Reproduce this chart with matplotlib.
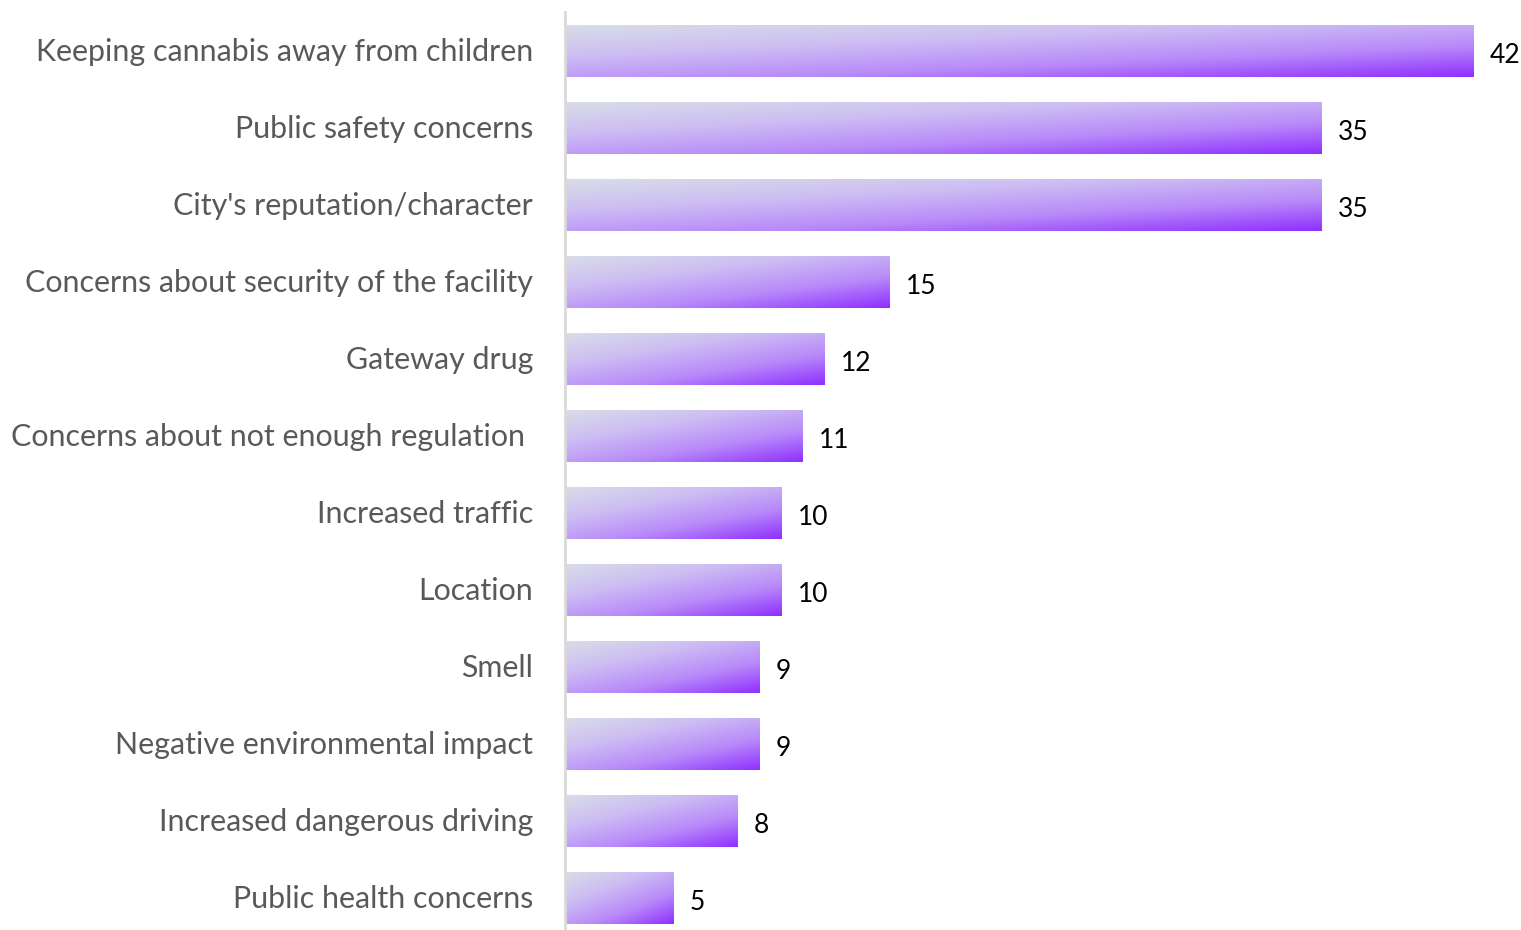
import numpy as np
import matplotlib.pyplot as plt
from matplotlib.colors import LinearSegmentedColormap

categories = [
    'Keeping cannabis away from children',
    'Public safety concerns',
    "City's reputation/character",
    'Concerns about security of the facility',
    'Gateway drug',
    'Concerns about not enough regulation ',
    'Increased traffic',
    'Location',
    'Smell',
    'Negative environmental impact',
    'Increased dangerous driving',
    'Public health concerns',
]
values = [42, 35, 35, 15, 12, 11, 10, 10, 9, 9, 8, 5]

plt.rcParams['font.family'] = ['Lato', 'DejaVu Sans']

cmap = LinearSegmentedColormap.from_list('bar_grad', ['#d8dde8', '#cdbdf3', '#b88af9', '#9030ff'])

fig = plt.figure(figsize=(15.21, 9.30), dpi=100)
ax = fig.add_axes([565 / 1521, 0.0, 1 - 565 / 1521, 1 - 12 / 930])

bar_h = 0.67
ypos = np.arange(len(values))
bars = ax.barh(ypos, values, height=bar_h, color='none')

# diagonal gradient: light at top-left, purple at bottom-right
gx, gy = np.meshgrid(np.linspace(0, 1, 200), np.linspace(0, 1, 60))
grad = (gx * 0.45 + gy * 0.55)
for b in bars:
    x0, y0 = b.get_x(), b.get_y()
    w, h = b.get_width(), b.get_height()
    ax.imshow(grad, cmap=cmap, extent=[x0, x0 + w, y0 + h, y0], origin='upper',
              aspect='auto', interpolation='bilinear', zorder=2)

for y, v in zip(ypos, values):
    ax.text(v + 0.75, y + 0.05, str(v), va='center', ha='left', fontsize=19, color='black')

# category labels as plain text to the left of the axis
for y, c in zip(ypos, categories):
    ax.text(-32 / 21.62, y + 0.01, c, va='center', ha='right', fontsize=21.9,
            color='#595959', clip_on=False)

ax.set_xlim(0, (1521 - 565) / 21.62)
ax.set_ylim(11.41, -0.51)
ax.set_yticks([])
ax.set_xticks([])
for s in ['top', 'right', 'bottom']:
    ax.spines[s].set_visible(False)
ax.spines['left'].set_color('#d9d9d9')
ax.spines['left'].set_linewidth(2)

fig.savefig('out.png', dpi=100)
